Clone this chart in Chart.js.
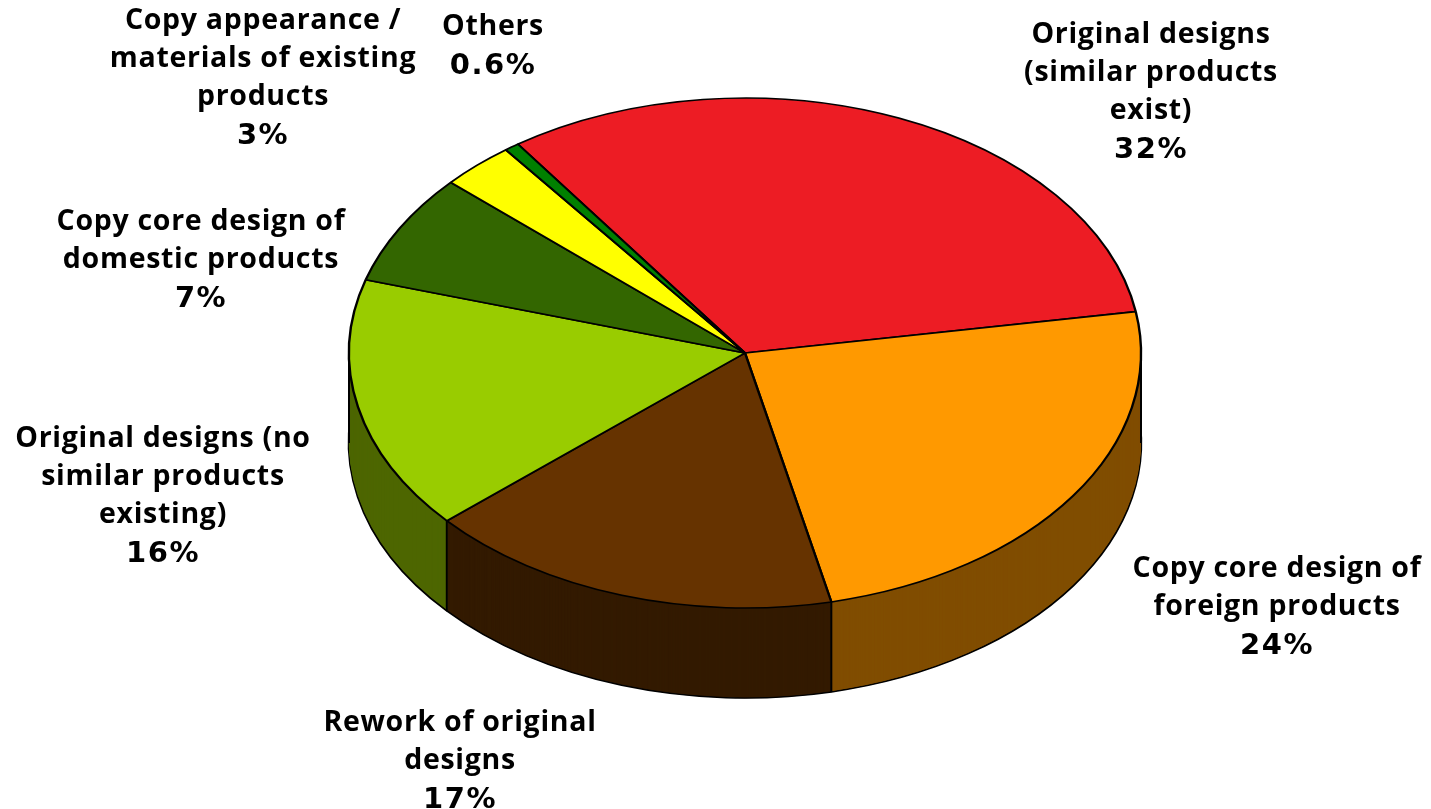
<!DOCTYPE html>
<html>
<head>
<meta charset="utf-8">
<title>Design sources</title>
<script src="https://cdn.jsdelivr.net/npm/chart.js@4/dist/chart.umd.min.js"></script>
<style>
html, body { margin: 0; padding: 0; background: #fff; }
canvas { display: block; }
</style>
</head>
<body>
<canvas id="grafica" width="1431" height="809"></canvas>
<script>
// slices, clockwise from the red one
const categorias = [
    "Original designs (similar products exist)",
    "Copy core design of foreign products",
    "Rework of original designs",
    "Original designs (no similar products existing)",
    "Copy core design of domestic products",
    "Copy appearance / materials of existing products",
    "Others"
];
const valores = [32, 24, 17, 16, 7, 3, 0.6];
const etiquetas = [
    ["Original designs", "(similar products", "exist)"],
    ["Copy core design of", "foreign products"],
    ["Rework of original", "designs"],
    ["Original designs (no", "similar products", "existing)"],
    ["Copy core design of", "domestic products"],
    ["Copy appearance /", "materials of existing", "products"],
    ["Others"]
];

const coloresTapa = ["#ED1C24", "#FF9900", "#663300", "#99CC00", "#336600", "#FFFF00", "#008000"];
const coloresLado = ["#771216", "#804D00", "#331A00", "#4D6600", "#1A3300", "#808000", "#004000"];

// centre x and first line y of each label
const posX = [1151, 1277, 460, 163, 201, 263, 493];
const posY = [33, 567, 721, 437, 220, 19, 25];
const altoLinea = 38;

// 3d look
const centroX = 745;
const centroY = 353;
const radio = 396;
const aplastado = 0.644;
const fondo = 90;

function ponerVista(ctx, arco, dy) {
    ctx.translate(centroX, centroY + dy);
    ctx.scale(1, aplastado);
    ctx.translate(-arco.x, -arco.y);
}

const pastel3d = {
    id: "pastel3d",
    beforeDatasetsDraw(chart) {
        const ctx = chart.ctx;
        const arcos = chart.getDatasetMeta(0).data;

        // side wall: the pie drawn again and again going down
        for (let dy = fondo; dy > 0; dy--) {
            arcos.forEach((arco, i) => {
                const original = arco.options;
                arco.options = Object.assign({}, original, {
                    backgroundColor: coloresLado[i],
                    borderColor: "#000",
                    borderWidth: dy === fondo ? 2.4 : 0
                });
                ctx.save();
                ponerVista(ctx, arco, dy);
                arco.draw(ctx);
                ctx.restore();
                arco.options = original;
            });
        }

        // vertical edges where a slice boundary faces the front, and both sides
        const bordes = arcos.map(a => a.startAngle).concat([0, Math.PI]);
        ctx.save();
        ctx.strokeStyle = "#000";
        ctx.lineWidth = 2;
        bordes.forEach(ang => {
            if (Math.sin(ang) < -0.001) return;
            const x = centroX + radio * Math.cos(ang);
            const y = centroY + radio * aplastado * Math.sin(ang);
            ctx.beginPath();
            ctx.moveTo(x, y);
            ctx.lineTo(x, y + fondo);
            ctx.stroke();
        });
        ctx.restore();

        ctx.save();
        ponerVista(ctx, arcos[0], 0);
    },
    afterDatasetsDraw(chart) {
        chart.ctx.restore();
    },
    afterDraw(chart) {
        const ctx = chart.ctx;
        ctx.save();
        ctx.fillStyle = "#000";
        ctx.textAlign = "center";
        ctx.textBaseline = "middle";
        etiquetas.forEach((lineas, i) => {
            ctx.font = "bold 28.5px 'Open Sans'";
            ctx.letterSpacing = "0.7px";
            lineas.forEach((txt, j) => {
                ctx.fillText(txt, posX[i], posY[i] + 2 + j * altoLinea);
            });
            // the percentages are wider than the words in the original
            ctx.font = "bold 29px 'DejaVu Sans'";
            ctx.letterSpacing = "1.5px";
            ctx.fillText(valores[i] + "%", posX[i], posY[i] + 3 + lineas.length * altoLinea);
        });
        ctx.restore();
    }
};

new Chart(document.getElementById("grafica").getContext("2d"), {
    type: "pie",
    data: {
        labels: categorias,
        datasets: [{
            data: valores,
            backgroundColor: coloresTapa,
            borderColor: "#000",
            borderWidth: 2.4,
            clip: false
        }]
    },
    options: {
        responsive: false,
        animation: false,
        rotation: 325,
        radius: radio,
        plugins: {
            legend: { display: false },
            tooltip: { enabled: false }
        }
    },
    plugins: [pastel3d]
});
</script>
</body>
</html>
